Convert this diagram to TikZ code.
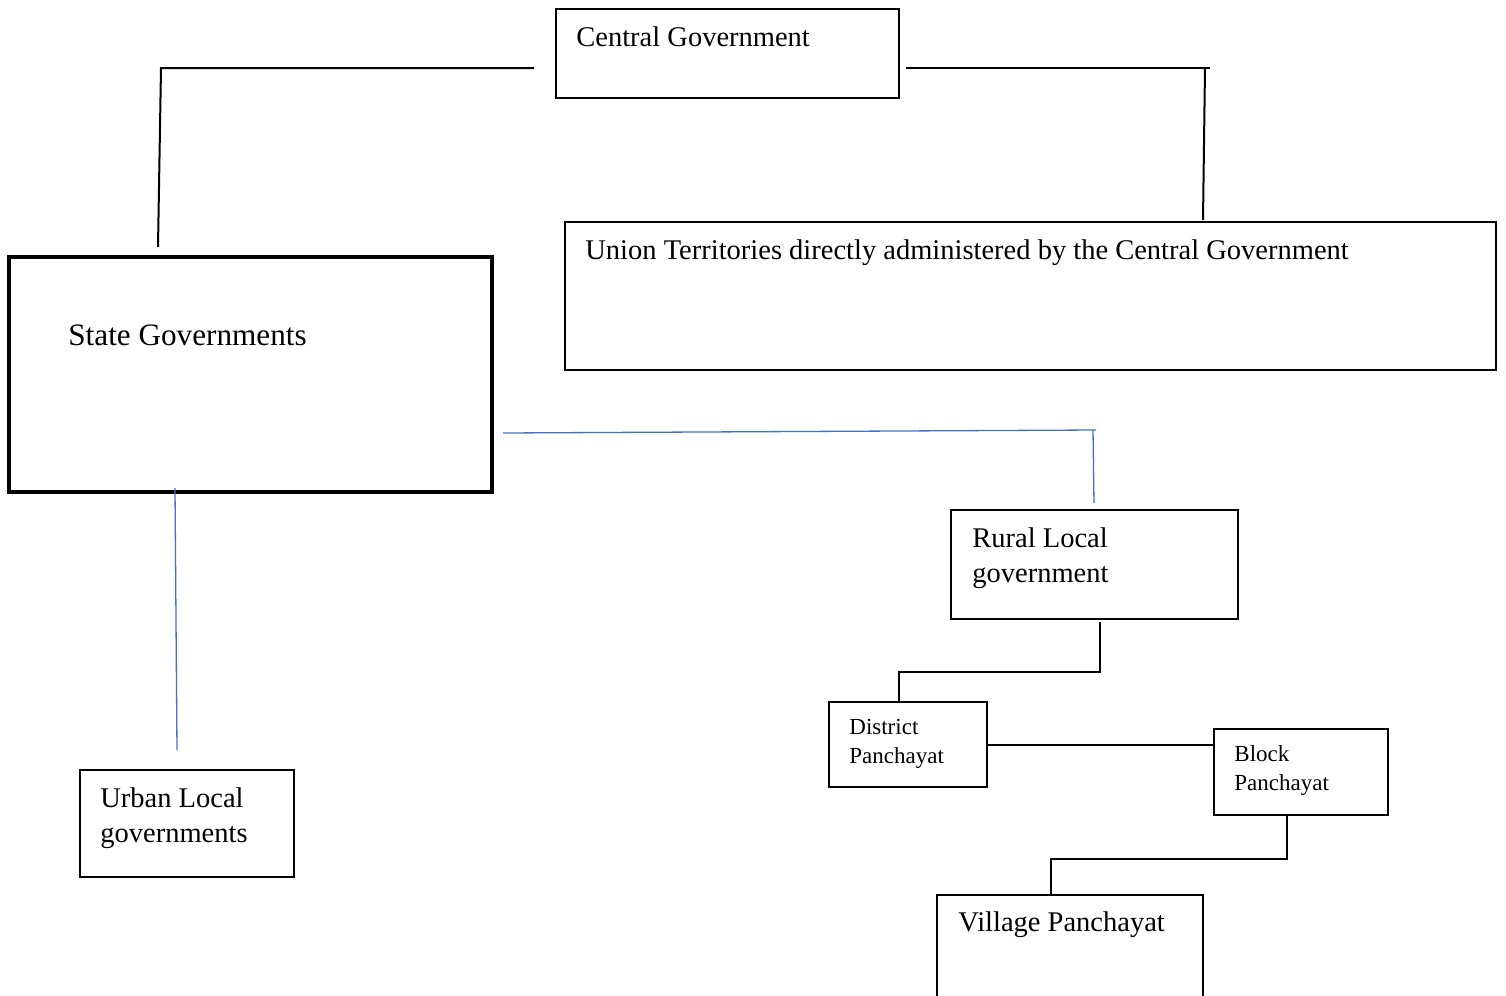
\documentclass[tikz,border=0pt]{standalone}
\usepackage{fontspec}
\setmainfont{Liberation Serif}
\usetikzlibrary{fit}
\definecolor{wordblue}{RGB}{68,114,196}
\tikzset{
  box/.style={draw, line width=1pt, inner sep=0pt},
  thickbox/.style={draw, line width=1.75pt, inner sep=0pt},
  conn/.style={line width=1pt},
  blueconn/.style={draw=wordblue, line width=0.65pt},
  txt/.style={inner sep=0pt, anchor=base west, font=\fontsize{14.25}{17}\selectfont},
  smalltxt/.style={txt, font=\fontsize{11.5}{14}\selectfont},
  bigtxt/.style={txt, font=\fontsize{15.6}{19}\selectfont}
}
\begin{document}
\begin{tikzpicture}[x=0.5pt,y=-0.5pt]
\useasboundingbox (0,0) rectangle (1506,996);
\clip (0,0) rectangle (1506,996);
\fill[white] (0,0) rectangle (1506,996);

% boxes
\node[box, fit={(556,9) (899,98)}] (central) {};
\node[box, fit={(565,222) (1496,370)}] (union) {};
\node[thickbox, fit={(9,257) (492,492)}] (state) {};
\node[box, fit={(951,510) (1238,619)}] (rural) {};
\node[box, fit={(829,702) (987,787)}] (district) {};
\node[box, fit={(1214,729) (1388,815)}] (block) {};
\node[box, fit={(80,770) (294,877)}] (urban) {};
\node[box, fit={(937,895) (1203,1020)}] (village) {};

% texts
\node[txt] (centralT) at (576,46) {Central Government};
\node[txt] (unionT) at (585,259) {Union Territories directly administered by the Central Government};
\node[bigtxt] (stateT) at (68,345) {State Governments};
\node[txt] (ruralT1) at (972,547) {Rural Local};
\node[txt] (ruralT2) at (972,582) {government};
\node[smalltxt] (districtT1) at (849,734) {District};
\node[smalltxt] (districtT2) at (849,763) {Panchayat};
\node[smalltxt] (blockT1) at (1234,761) {Block};
\node[smalltxt] (blockT2) at (1234,790) {Panchayat};
\node[txt] (urbanT1) at (100,807) {Urban Local};
\node[txt] (urbanT2) at (100,842) {governments};
\node[txt] (villageT) at (958,931) {Village Panchayat};

% connector points
\coordinate (lA) at (534,68);
\coordinate (lB) at (161,68);
\coordinate (lC) at (158,247);
\coordinate (rA) at (906,68);
\coordinate (rB) at (1210,68);
\coordinate (rC) at (1205,68);
\coordinate (rD) at (1203,220);
\coordinate (bA) at (503,433);
\coordinate (bB) at (1096,430);
\coordinate (bC) at (1093,430);
\coordinate (bD) at (1094,503);
\coordinate (uA) at (175,488);
\coordinate (uB) at (177,750);
\coordinate (kA) at (1100,622);
\coordinate (kB) at (1100,672);
\coordinate (kC) at (899,672);
\coordinate (kD) at (899,702);
\coordinate (mA) at (1287,815);
\coordinate (mB) at (1287,859);
\coordinate (mC) at (1051,859);
\coordinate (mD) at (1051,895);

% connectors
\draw[conn] (lA) -- (lB) -- (lC);
\draw[conn] (rA) -- (rB);
\draw[conn] (rC) -- (rD);
\draw[blueconn] (bA) -- (bB);
\draw[blueconn] (bC) -- (bD);
\draw[blueconn] (uA) -- (uB);
\draw[conn] (kA) -- (kB) -- (kC) -- (kD);
\draw[conn] (district.east |- 0,745) -- (block.west |- 0,745);
\draw[conn] (mA) -- (mB) -- (mC) -- (mD);
\end{tikzpicture}
\end{document}
